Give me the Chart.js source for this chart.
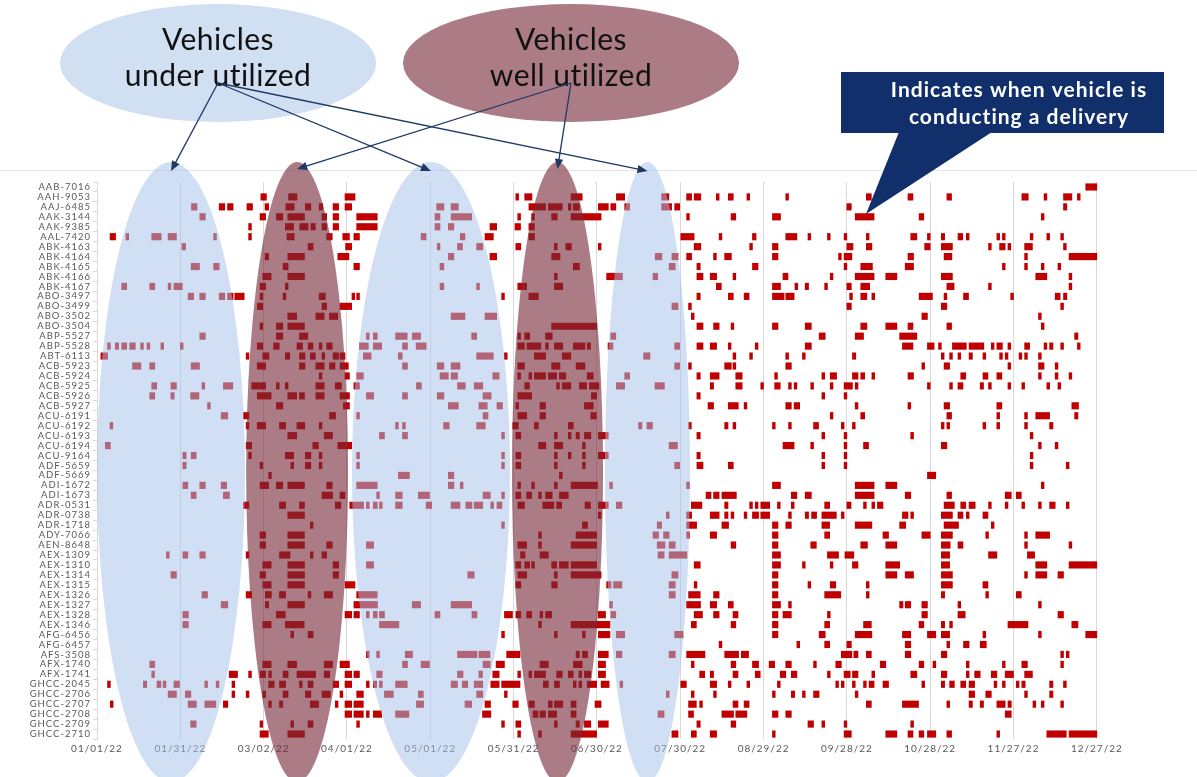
<!DOCTYPE html>
<html>
<head>
<meta charset="utf-8">
<script src="https://cdn.jsdelivr.net/npm/chart.js"></script>
<style>
  html, body { margin: 0; padding: 0; background: #ffffff; }
  #wrap { position: relative; width: 1197px; height: 777px; }
  canvas { display: block; }
</style>
</head>
<body>
<div id="wrap"><canvas id="fleet" width="1197" height="777"></canvas></div>
<script>
// Vehicle rows, top to bottom
const vehicles = [
  'AAB-7016','AAH-9053','AAJ-6485','AAK-3144','AAK-9385','AAL-7420','ABK-4163','ABK-4164',
  'ABK-4165','ABK-4166','ABK-4167','ABO-3497','ABO-3499','ABO-3502','ABO-3504','ABP-5527',
  'ABP-5528','ABT-6113','ACB-5923','ACB-5924','ACB-5925','ACB-5926','ACB-5927','ACU-6191',
  'ACU-6192','ACU-6193','ACU-6194','ACU-9164','ADF-5659','ADF-5669','ADI-1672','ADI-1673',
  'ADR-0531','ADR-0738','ADR-1718','ADY-7066','AEN-8648','AEX-1309','AEX-1310','AEX-1314',
  'AEX-1315','AEX-1326','AEX-1327','AEX-1328','AEX-1346','AFG-6456','AFG-6457','AFS-3508',
  'AFX-1740','AFX-1741','GHCC-2045','GHCC-2706','GHCC-2707','GHCC-2708','GHCC-2709','GHCC-2710'
];

// Date axis: day 0 = 01/01/22, one label every 30 days
const tickLabels = ['01/01/22','01/31/22','03/02/22','04/01/22','05/01/22','05/31/22','06/30/22',
  '07/30/22','08/29/22','09/28/22','10/28/22','11/27/22','12/27/22'];

// Deliveries per vehicle: flat pairs of (start day, length in days)
const t00 = [356,4];
const t01 = [59,2, 69,3, 89.3,3.6, 150.8,1, 154,2.6, 170.7,4, 187,3, 203.3,2.6, 212.3,1.8, 215,2.4, 223,1, 227.3,1.8, 234,1, 248,1, 277,1.8, 292,1.8, 306,1.7, 333,2.3, 341,1, 348,3, 353,1];
const t02 = [34,2, 44,2, 47,2, 54,2, 60.5,1.3, 68,3, 75,2, 80,1.3, 85,2, 89.3,2.4, 122.3,2.6, 127.5,2.6, 155.5,6, 162.5,5, 169.7,1, 171.5,2.2, 180.5,3.6, 185,1.8, 190,1.8, 203.3,3.6, 208,1.8, 270,1.6, 348,1.2];
const t03 = [37,2, 58.7,2, 64.6,2.3, 68.7,6, 81,1.7, 85,2, 93.5,7.4, 121.7,1.8, 127.5,7.4, 151.5,1, 156.5,1, 163.7,2, 170.7,10.8, 212.3,1, 228.3,1.7, 243.2,2.9, 273,6.8, 296,1.7, 340,1];
const t04 = [54.6,1, 67.8,3, 73,3, 77,1.6, 81,1.7, 85,2, 93.5,7.4, 121.7,1.8, 126.5,2, 141.5,2.4, 150.5,2, 155.5,2];
const t05 = [4.7,2, 10.4,1, 19.7,3.4, 25.6,3, 42,1, 54.6,1, 68.4,2.6, 82.7,2, 88.5,2.4, 92.5,2, 116.7,1.8, 130.8,1.7, 139.7,3, 155.5,2, 210.2,4.8, 224,1, 236,1.3, 248,4, 256,1, 263,1, 269,1, 277,1, 293,2.2, 299,1, 304,1.2, 310,1.7, 313,1, 324,1, 326,1, 336,1, 342,1, 347,1];
const t06 = [30.6,1.3, 76,1.8, 89.5,2.2, 122.5,1, 129.8,1.8, 136.7,2.2, 150.8,1.8, 164.7,1, 168.8,2, 180.5,1, 215,2.4, 235,1, 243.2,2, 270,2.2, 277,2, 298,2, 304,4, 321,1, 325,2, 328,1, 334,2.8, 348,1];
const t07 = [60.5,1.3, 68.7,6, 86.7,4, 126.5,2, 141.5,2.4, 163.7,3, 201,2.4, 207,2.2, 212.3,1.8, 222,1, 226,2.4, 243.2,2, 267,1, 269,2.8, 292,2, 305,2.8, 334,1, 350,10];
const t08 = [33.9,3, 42,2, 67,1.8, 92.5,2, 123.5,1.4, 171.5,2.2, 206,2.2, 216,1.2, 236,2, 269,1, 275,4.2, 291,3, 326,1, 334,1, 340,1, 346,1];
const t09 = [59.7,3, 68.7,6, 164.7,1, 183.5,2.8, 186.3,2.9, 200.2,1.7, 216,2.2, 220.8,2.3, 229,1, 247,1.8, 264,1, 273,6.8, 284,4, 304,4, 338,4, 350,1];
const t10 = [8.9,1.8, 19,1.8, 25.6,1, 27.7,3, 58.7,2, 67.8,1, 123.5,1.4, 136.7,1, 151.5,3.2, 164.7,3, 223,1.8, 243.2,2.9, 251.3,1, 255,1.2, 262,1, 270,1.6, 275,3.2, 306,2.6, 321,1, 350,1];
const t11 = [32.8,2, 37,2, 44,2, 47,2, 49.6,3.4, 58.7,1, 67,1, 80,2.2, 91.8,1, 93.5,1, 145.7,1, 155.5,3.4, 216,1.2, 227.3,1.8, 233,1.8, 243.2,4.2, 248,3, 271,1, 275,2.2, 279,1, 296,4.8, 305,1, 312,1.8, 329,1, 345,1.8, 348,1.2];
const t12 = [57.7,2, 81,1.7, 87.5,4.2, 207,2.2, 213,1, 270,1.6, 304,2, 347,1];
const t13 = [68.7,3.2, 78.8,3, 83.7,3, 127.5,5, 139.7,4.2, 214,1, 297,2, 339,1];
const t14 = [58.7,1, 64.6,2.3, 68.7,6, 163.7,16.2, 216,2.2, 222,2, 228.3,1, 243.2,2, 255,2.2, 275,2.2, 284,4, 292,1.8, 306,1.7, 340,1];
const t15 = [37,2, 64.6,2.3, 72.9,3, 97,1, 99.5,1.4, 107.5,4.2, 113.5,3, 134.9,1.8, 151.5,1, 154,1.8, 161.5,2.4, 185,1.8, 260,2.2, 273,3, 289,6.2, 352,1.2];
const t16 = [3.8,1, 6.6,1.2, 8.9,1.8, 11.8,2, 15.7,1, 18,1, 23,1, 30,1, 57.7,2, 63.6,2, 72,2, 76,1.8, 80,1, 82.7,2, 94.5,3.2, 99.5,3, 110,1.8, 114.9,3.6, 151.5,2.4, 154.8,5, 161.5,1, 164.7,3, 171.5,4.2, 176.5,1.2, 184,1.8, 208,1.8, 216,2.2, 220.8,2.3, 227.3,1, 237,1, 255,2.2, 290,3.8, 299,2.4, 303,1, 308,5, 314,5.3, 322,1, 324,2, 328,1, 334,1.8, 341,1, 343,1.2, 347,1, 353,1];
const t17 = [1.4,2.4, 53.7,1, 59.7,2.2, 67.8,1.6, 72.9,2, 76.8,1.8, 81,1, 85,2, 87.5,1.8, 95.9,2.8, 108.5,1.4, 136.7,6, 146.7,1, 157.5,4, 167.5,3.1, 196.8,2.3, 229,1, 235,1, 248,1, 254,1, 272,1.2, 304,1, 307,1, 310,1, 314,1.2, 319,1, 325,1, 327,1, 332,1, 334,1, 339,1];
const t18 = [12.8,3, 19,1.8, 33.9,3, 57.7,3, 72.9,2, 78.8,3, 83.7,2, 87.5,3, 110,1.8, 122.5,2.4, 127.5,3.2, 151.5,2.4, 163.7,3, 172.5,3.2, 208,1.8, 213,1, 226,2.4, 229,1, 248,2, 297,1, 305,2, 328,1, 339,2, 345,1];
const t19 = [80,1, 89.3,1.6, 93.5,2.4, 123.5,3, 127.5,2.3, 142.5,2.3, 151.5,1, 155.5,1, 157.5,4, 162.5,3, 166.5,2.3, 176.5,2.2, 190,1.8, 216,1.2, 220.8,3.2, 230,2.3, 244,1, 261,1, 264,2.3, 272,2, 275,1.4, 279,1, 292,2, 311,1.8, 319,1.8, 324,1.8, 339,1, 345,1, 350,1];
const t20 = [19.7,1.8, 26.6,2, 37.8,1, 45.5,3.4, 55.7,5, 64.6,1, 67.8,1, 78.8,3, 85.8,2.2, 92.5,2, 115,1.8, 129.8,2.8, 135.8,3.1, 154,1.7, 165.5,1, 167.5,3.1, 173.7,2.6, 177.3,3.4, 187,3, 200.9,3.4, 220.8,1.2, 230,2.3, 239,1, 244,2, 249,1, 251,1, 257,1, 264,1, 269,3, 273,1, 299,1, 307,1, 310,1.8, 318,1.2, 321,1, 328,1, 333,1, 342,1, 346,1];
const t21 = [19,1.8, 26.6,1.2, 33.7,3, 57.7,5, 68.7,3.2, 72.9,1.8, 78.8,3, 87.5,3.4, 97,2.6, 110,1.8, 122.5,2.4, 139,2.9, 151.5,5, 178,1.9, 216,1.2, 261,1, 269,1];
const t22 = [39.8,1, 64.6,2.3, 88.7,2.2, 126.5,3.6, 137.5,3, 144,2, 150.8,1, 159.5,2, 175.5,3.2, 220,2, 227.3,3.6, 233,1, 248,2, 251,2, 273,1, 292,1, 305,2, 324,1.8, 351,2.4];
const t23 = [44.7,2.4, 52.7,2, 83.7,2.2, 93.5,1, 139,1.8, 151.5,3.2, 159.5,2, 177.8,2, 264,1, 275,1.4, 306,1.7, 324,1, 334,1, 338,5, 352,1.2];
const t24 = [4.7,1, 53.7,1, 57.7,3, 65.7,2.2, 72,2.8, 80,1, 107.5,1, 110,1, 124.8,2, 136.7,3.1, 149.7,2, 157.5,1.4, 169.7,1.8, 195,1.2, 198,2, 213,1, 226,1.2, 229,1, 243.2,1, 249,1, 258,1.8, 268,1, 272,1, 304,1, 306,1, 319,1, 324,1, 334,1, 343,1.2];
const t25 = [68.7,3.2, 81.8,3, 101.7,1.8, 110,1.8, 145.7,1, 150.8,1.8, 164.7,1, 169.7,1, 172.5,1.2, 175.5,2.3, 180.5,3.6, 216,1.2, 261,1, 269,1, 293,1, 336,1];
const t26 = [3,1.8, 53.7,2, 77.7,2, 86.7,5, 159,2.6, 164.7,3, 174.8,1, 206,3, 247,4, 257,1, 269,1, 276,1.8, 304,2, 339,1, 345,1];
const t27 = [30.9,1.2, 33.9,1.8, 54.6,1, 67.8,3, 75,2, 80,1, 93.5,1, 145.7,1, 150.8,1.8, 164.7,1, 169.7,1, 174.8,1, 180.5,3.6, 216,1.2, 261,1, 269,1, 336,1];
const t28 = [30.9,1.2, 58.7,1, 69.8,1, 75,2, 80,1, 93.5,1, 145.7,1, 150.8,1.8, 164.7,1, 174.8,1, 208,1.8, 216,2.2, 227.3,1.8, 261,1, 269,1, 336,1, 349,1];
const t29 = [61.8,1, 108.5,4, 126.5,2, 166.5,1, 299,3];
const t30 = [30.9,1.8, 37,2, 44.7,2, 58.7,3.1, 64.6,2.3, 68.7,6, 82.7,2, 93.5,7.4, 126.5,2, 130.8,1, 151.5,1, 156.5,1, 164.7,1, 170.7,9.5, 184.6,1, 212.3,1, 243.2,2.9, 273,6.8, 284,4, 340,1];
const t31 = [33.9,1.8, 45.5,2.2, 81,3.8, 87.5,1.8, 100.7,1, 107.5,2.4, 115.7,4, 139,2.6, 145.7,1, 150.8,1.8, 154.7,1.8, 159,1, 161.5,2.4, 166.5,3.2, 219.3,1.8, 222,2, 225,5.2, 250,2, 255,2.2, 273,6.8, 291,2, 306,1.7, 327,2.2, 331,1.8];
const t32 = [52.7,2, 65.7,2.2, 72.9,1.8, 85.8,2, 91,5, 97,1, 99.5,1.4, 101.7,1, 107.5,2.4, 118.5,2, 127.5,3.2, 132.8,2.2, 135.8,3.1, 141.8,1, 144,1.8, 151.5,2.4, 160.5,4, 165.5,1.8, 175.7,2, 180.5,3.6, 187,2, 214,3.8, 226,1.2, 235,1, 237,1, 239,3.2, 245,1, 250,1, 262,1.8, 270,1.5, 276,1, 279,1, 281,2, 305,3.7, 311,1.8, 314,2.2, 321,1, 327,1, 333,1, 339,1, 343,2, 349,1];
const t33 = [68.7,6, 180.5,1, 205,1, 212.3,1.8, 220.8,3.2, 226,1.2, 228.3,1, 233,1, 236,2.2, 239,3.2, 249,1, 255,1.2, 257.3,1.8, 261,5.2, 268,1, 290,2, 293,1, 304,4, 310,1.8, 313,1, 319,1.8];
const t34 = [76.8,1, 145.7,1, 174.8,1.8, 201.7,1.6, 212.3,3.6, 225,2.4, 243.2,2, 248,2, 261,2.8, 273,6, 289,2.2, 305,5.2, 322,1];
const t35 = [58.7,2, 68.7,6, 159,1, 172.5,7.4, 200.2,2, 204,2, 212.3,1, 220.8,2.3, 243.2,2, 262,1.8, 283,2, 297,3, 304,4, 320,1, 334,1, 338,5];
const t36 = [58.7,2, 68.7,6, 82.7,2, 97,2.6, 151.5,3.2, 159,1, 170.7,9.2, 201.7,2.8, 206,2.2, 228.3,1.7, 243.2,2, 257,2, 275,2.4, 284,4, 304,3.2, 310,1.8, 334,1, 350,1];
const t37 = [25,1, 30.9,1.8, 37,2, 53.7,1, 65.7,3.8, 76.8,1, 81,1.7, 152.5,1.6, 159.5,3, 202,2.2, 206,6.4, 243.2,2.9, 263,4, 269.3,3.2, 304,3, 321,3, 335,2.6];
const t38 = [59.7,3, 68.7,6, 85,2, 97,2.6, 150.8,1.8, 154,1.8, 156.5,1, 163.7,1.8, 166.5,3.2, 170.7,9.2, 215,2.2, 243.2,2.9, 254,1, 264,1, 272,2, 284,5, 304,3, 338,4, 350,10];
const t39 = [26.6,2, 58.7,2, 68.7,6, 85,2, 133.5,2.3, 151.5,3.2, 164.7,1, 170.7,10.8, 207,2.2, 243.2,2, 284,4, 291,3, 304,4, 334,1, 338,4, 346,2];
const t40 = [59.7,3, 68.7,6, 89.3,3.6, 150.8,1.8, 163.7,2, 183.5,1.6, 186,3, 206,2.2, 215,1, 243.2,2, 256,1, 264,2, 277,1, 304,4, 319,1.8];
const t41 = [37.8,2, 53.7,2, 60.6,2.2, 65.7,2.2, 76,1, 81.8,3, 93.5,7.4, 206,2.2, 213,4.2, 222,2, 243.2,2, 262,5.8, 277,1, 304,1.2, 320,1, 331,1.8];
const t42 = [44.7,2.4, 60.6,1.2, 68.7,6, 92.5,8.5, 113.5,3, 127.5,7.4, 184.6,1, 212.3,5, 220.8,2.3, 227.3,1.8, 243.2,2.9, 249,1, 289,1.2, 291,2, 297,2, 310,1, 339,1];
const t43 = [30.9,2, 64.6,3.2, 89.3,2.4, 92.5,2, 97,1, 99.5,1.4, 101.7,1.8, 121.7,1.8, 135,1.8, 146.7,2.9, 150.8,1.8, 154.7,1.8, 159.5,1, 161.5,2.2, 180.5,2.6, 185,1.8, 215,3, 222,2, 229,1.8, 243.2,2, 247,3, 263,1, 297,2, 310,2.6, 346,2];
const t44 = [30.9,2, 59.7,3, 67.8,6.8, 101.7,7, 159,1, 170.7,14, 214,1.8, 228.3,1.7, 243.2,2, 262,1.8, 276,2.8, 296,1.7, 304,1.2, 307,1, 328,7.2, 351,2.2];
const t45 = [69.8,1, 76,1.8, 145.7,1, 164.7,1, 174.8,1, 180.5,4.2, 187,3, 208,3, 243.2,2, 260,2.2, 273,6, 290,3, 299,3, 304,3, 319,1, 339,1, 356,4];
const t46 = [224,1, 252,1, 262,1.8, 270,1.6, 291,2, 306,1, 312,2, 318,2.2];
const t47 = [97,1, 100.7,1, 111,2.6, 129.8,7, 137.5,4, 147.5,4.8, 172.5,1.2, 174.8,1.8, 180.5,3.6, 187,2, 206,2.2, 212.3,6.6, 226,5, 232,2.6, 268,3.8, 272.5,1.5, 277,1.8, 291,2, 304,2, 347,1, 349,1];
const t48 = [19,1.8, 59.7,3, 68.7,3.2, 81.8,3, 87.5,3.4, 110,1.8, 116.7,3, 139,2.6, 143.7,3, 159.5,3, 171.5,3.2, 180.5,2.6, 214,1, 228.3,1.7, 236,2.2, 242,2, 248,2, 258,1, 266,2, 282,2, 296,1.7, 301,1, 313,1, 326,1, 333,2, 347,1];
const t49 = [19.7,1, 47.6,3, 54.6,1, 58.7,2, 61.8,1, 67,1.8, 72,6.7, 81.8,2, 89.3,2.4, 92.5,2, 100.7,2, 129.8,2, 137.5,1.3, 142.5,2.3, 151.5,1, 155.5,1, 157.5,4, 165.5,2, 169.7,1.8, 173.5,1, 175.5,2.3, 180.5,2.6, 217,1.8, 220.8,1.2, 229,1.8, 237,1.8, 246,2, 250,2, 263,1, 269,2.2, 272,2, 279,1, 293,2.2, 304,2, 313,1, 316,2, 322,2, 327,3, 334,2.8];
const t50 = [3.8,1, 16.7,1.2, 21.6,1.4, 23.8,1, 27.7,2, 38.8,1, 42.9,1, 48.6,1, 61.8,2, 65.7,2.2, 72.9,1, 76,1.8, 85,2, 89.3,2.4, 97,1, 99.5,1.2, 101.7,1, 107.5,4.2, 127.5,2.3, 131.5,2, 135.8,3.1, 141.8,3, 145.7,6.6, 160.7,1.8, 164.7,1.8, 171.5,1, 173.5,1, 176.5,3.4, 181.5,2.9, 188.3,1, 210.2,2, 220.8,2.3, 227.3,1, 234,1, 245,1, 266,1, 268,1, 272,1, 276,1, 278,1.8, 283,2, 297,1, 304,1.2, 307,1.7, 311,1.8, 314,2, 323,1, 326,1, 331,1, 333,1.2, 343,1.2, 348,1];
const t51 = [25.6,3, 31.8,2, 48.6,1, 53.7,1, 59.7,1, 67,1.8, 75,2, 81,3, 87.5,1, 93.5,2.4, 103.5,3.2, 115.7,1.8, 136.7,2.2, 146.7,1, 205,1, 214,1, 222,1, 243.2,1, 250,1.2, 254,1, 258,2, 273,1, 314,2, 320,2, 334,1, 343,1.2];
const t52 = [4.8,1, 32.8,3, 38.8,4, 45.5,1.6, 61.8,1, 65.7,1.2, 76.8,3, 85.8,1, 89.3,2.4, 92.5,3.4, 115,2.6, 132.5,2.4, 139.7,2, 149.7,2, 155.5,2, 162.5,1.4, 164.7,3, 170.7,1.8, 179.3,2.2, 213,2.8, 217,1, 229,1.8, 233,1.8, 277,1.8, 290,5.8, 306,1, 314,1.2, 318,1.2, 324,3, 328,1.2, 337,1, 340,1, 347,1];
const t53 = [89.3,2.4, 92.5,3.4, 97,1, 99.5,3, 107.5,4.8, 138.8,3, 157,1.8, 159.5,2, 162.5,3, 170.7,1.8, 202,2.2, 213,1.8, 225,4.2, 230,4, 243.2,2, 248,2, 327,2.2];
const t54 = [33.7,2, 58.7,1, 69.8,1, 76,1.8, 93.5,1, 145.7,1, 150.8,1.8, 164.7,1, 172.5,1.2, 175.5,2.3, 180.5,3.6, 216,1.2, 228.3,1.7, 256,2, 261,1, 269,1, 293,1];
const t55 = [58.7,3, 68.7,6, 151.5,1, 159,1, 170.7,9.2, 207,2.2, 214,1.8, 220.8,2.3, 243.2,1, 269,2.6, 284,4, 292,1.8, 296,1.7, 299,3, 306,1.7, 324,1, 342,7, 350,10];

const deliveryRows = [t00,t01,t02,t03,t04,t05,t06,t07,t08,t09,t10,t11,t12,t13,t14,t15,t16,t17,t18,t19,
  t20,t21,t22,t23,t24,t25,t26,t27,t28,t29,t30,t31,t32,t33,t34,t35,t36,t37,t38,t39,
  t40,t41,t42,t43,t44,t45,t46,t47,t48,t49,t50,t51,t52,t53,t54,t55];

// Highlighted utilisation periods (day ranges) for the overlay bands
const underUsedSpans = [[0, 53.3], [91.8, 148.7], [182.9, 213.5]];
const wellUsedSpans = [[53.7, 90.4], [149.4, 182.2]];

// Floating bars: one entry per delivery window
const bars = [];
deliveryRows.forEach((row, i) => {
  for (let k = 0; k < row.length; k += 2) {
    bars.push({ y: vehicles[i], x: [row[k], row[k] + row[k + 1]] });
  }
});

const BLUE_VEIL = 'rgba(164,193,232,0.52)';
const MAROON_VEIL = 'rgba(118,41,56,0.61)';
const NAVY = '#1f3864';

function arrow(ctx, x1, y1, x2, y2) {
  const a = Math.atan2(y2 - y1, x2 - x1), L = 10, W = 4.2;
  ctx.beginPath();
  ctx.moveTo(x1, y1);
  ctx.lineTo(x2 - Math.cos(a) * L * 0.7, y2 - Math.sin(a) * L * 0.7);
  ctx.stroke();
  ctx.beginPath();
  ctx.moveTo(x2, y2);
  ctx.lineTo(x2 - L * Math.cos(a) + W * Math.sin(a), y2 - L * Math.sin(a) - W * Math.cos(a));
  ctx.lineTo(x2 - L * Math.cos(a) - W * Math.sin(a), y2 - L * Math.sin(a) + W * Math.cos(a));
  ctx.closePath();
  ctx.fill();
}

const overlay = {
  id: 'overlay',
  beforeDraw(chart) {
    const ctx = chart.ctx;
    ctx.save();
    ctx.fillStyle = '#ffffff';
    ctx.fillRect(0, 0, chart.width, chart.height);
    ctx.strokeStyle = '#e4e4e4';
    ctx.lineWidth = 1;
    ctx.beginPath();
    ctx.moveTo(0, 170.5);
    ctx.lineTo(chart.width, 170.5);
    ctx.stroke();
    ctx.restore();
    // widely tracked axis lettering
    ctx.letterSpacing = '1px';
  },
  afterDraw(chart) {
    const ctx = chart.ctx, xs = chart.scales.x;
    const cy = 472, ry = 310;
    ctx.save();
    ctx.letterSpacing = '0px';

    // tall translucent bands over the timeline
    const band = (span, fill) => {
      const l = xs.getPixelForValue(span[0]), r = xs.getPixelForValue(span[1]);
      ctx.beginPath();
      ctx.ellipse((l + r) / 2, cy, (r - l) / 2, ry, 0, 0, Math.PI * 2);
      ctx.fillStyle = fill;
      ctx.fill();
      return (l + r) / 2;
    };
    const underX = underUsedSpans.map(s => band(s, BLUE_VEIL));
    const wellX = wellUsedSpans.map(s => band(s, MAROON_VEIL));

    // headline bubbles
    ctx.beginPath();
    ctx.ellipse(218, 63, 158, 59, 0, 0, Math.PI * 2);
    ctx.fillStyle = '#d0dff2';
    ctx.fill();
    ctx.beginPath();
    ctx.ellipse(571, 63, 168, 59, 0, 0, Math.PI * 2);
    ctx.fillStyle = '#ab7c85';
    ctx.fill();

    ctx.fillStyle = '#111111';
    ctx.font = '30px Lato';
    ctx.letterSpacing = '0.5px';
    ctx.textAlign = 'center';
    ctx.textBaseline = 'middle';
    ctx.fillText('Vehicles', 218, 40);
    ctx.fillText('under utilized', 218, 76);
    ctx.fillText('Vehicles', 571, 40);
    ctx.fillText('well utilized', 571, 76);

    // connectors
    ctx.strokeStyle = NAVY;
    ctx.fillStyle = NAVY;
    ctx.lineWidth = 1.3;
    underX.forEach(x => arrow(ctx, 218, 83, x, 171));
    wellX.forEach(x => arrow(ctx, 571, 83, x, 169));

    // delivery legend callout
    ctx.fillStyle = '#102f6b';
    ctx.fillRect(841, 72, 323, 61);
    ctx.beginPath();
    ctx.moveTo(899, 132);
    ctx.lineTo(992, 132);
    ctx.lineTo(866, 214);
    ctx.closePath();
    ctx.fill();
    ctx.fillStyle = '#ffffff';
    ctx.font = 'bold 21px Lato';
    ctx.letterSpacing = '1px';
    ctx.fillText('Indicates when vehicle is', 1019, 90);
    ctx.fillText('conducting a delivery', 1019, 117);
    ctx.restore();
  }
};

new Chart(document.getElementById('fleet'), {
  type: 'bar',
  data: {
    labels: vehicles,
    datasets: [{
      data: bars,
      backgroundColor: '#c00000',
      borderWidth: 0,
      barThickness: 6.5
    }]
  },
  options: {
    indexAxis: 'y',
    responsive: false,
    animation: false,
    devicePixelRatio: 1,
    layout: { padding: { top: 182, right: 96, left: 0, bottom: 0 } },
    plugins: { legend: { display: false }, tooltip: { enabled: false } },
    scales: {
      x: {
        type: 'linear',
        position: 'bottom',
        min: 0,
        max: 361.5,
        afterBuildTicks: s => { s.ticks = tickLabels.map((_, i) => ({ value: i * 30 })); },
        afterFit: s => { s.height = 38; },
        grid: { color: '#d9d9d9', lineWidth: 1, drawTicks: false },
        border: { display: false },
        ticks: {
          callback: v => tickLabels[Math.round(v / 30)],
          color: '#595959',
          font: { family: 'Lato', size: 10 },
          padding: 4,
          maxRotation: 0,
          autoSkip: false
        }
      },
      y: {
        type: 'category',
        afterFit: s => { s.width = 97; },
        grid: { display: true, drawOnChartArea: false, drawTicks: true, tickLength: 4, color: '#d9d9d9' },
        border: { display: true, color: '#d9d9d9' },
        ticks: {
          color: '#595959',
          font: { family: 'Lato', size: 9.5 },
          padding: 2,
          autoSkip: false
        }
      }
    }
  },
  plugins: [overlay]
});
</script>
</body>
</html>
